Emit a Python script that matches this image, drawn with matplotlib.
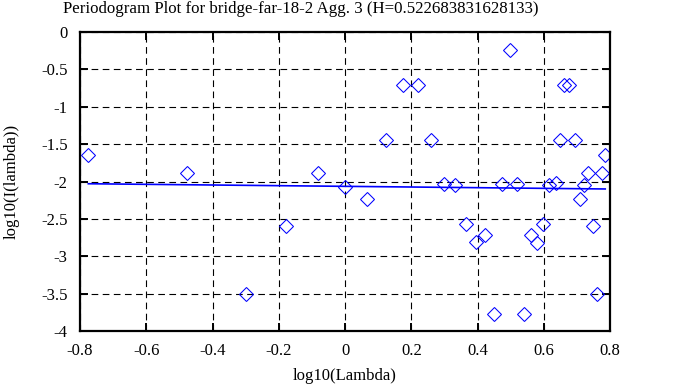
import matplotlib
matplotlib.use("Agg")
import matplotlib.pyplot as plt

plt.rcParams['font.family'] = ['Liberation Serif', 'DejaVu Serif']

# periodogram points
log_lambda = [-0.775, -0.476, -0.299, -0.178, -0.081, 0.0, 0.065, 0.124, 0.174,
              0.219, 0.260, 0.297, 0.332, 0.365, 0.395, 0.422, 0.449, 0.474,
              0.498, 0.518, 0.539, 0.561, 0.579, 0.598, 0.616, 0.636, 0.648,
              0.661, 0.677, 0.693, 0.708, 0.722, 0.734, 0.748, 0.760, 0.774, 0.784]
log_I = [-1.645, -1.88, -3.50, -2.60, -1.89, -2.07, -2.23, -1.45, -0.71,
         -0.71, -1.45, -2.03, -2.05, -2.57, -2.81, -2.72, -3.78, -2.04,
         -0.24, -2.04, -3.78, -2.72, -2.82, -2.57, -2.05, -2.02, -1.45,
         -0.71, -0.71, -1.45, -2.23, -2.05, -1.89, -2.60, -3.50, -1.88, -1.645]

# fitted line (end points)
fit_x = [-0.775, 0.785]
fit_y = [-2.03, -2.10]

fig = plt.figure(figsize=(6.78, 3.87), dpi=100)
ax = fig.add_axes([0.118, 0.145, 0.782, 0.772])

ax.plot(log_lambda, log_I, linestyle='none', marker='D', markersize=7,
        markerfacecolor='none', markeredgecolor='blue', markeredgewidth=0.75)
ax.plot(fit_x, fit_y, color='blue', lw=1.2)

ax.set_xlim(-0.8, 0.8)
ax.set_ylim(-4, 0)
ax.set_xticks([-0.8, -0.6, -0.4, -0.2, 0, 0.2, 0.4, 0.6, 0.8])
ax.set_xticklabels(['-0.8', '-0.6', '-0.4', '-0.2', '0', '0.2', '0.4', '0.6', '0.8'])
ax.set_yticks([0, -0.5, -1, -1.5, -2, -2.5, -3, -3.5, -4])
ax.set_yticklabels(['0', '-0.5', '-1', '-1.5', '-2', '-2.5', '-3', '-3.5', '-4'])

ax.grid(True, color='black', linestyle=(0, (6, 4)), linewidth=0.8)
ax.tick_params(direction='in', length=6, width=1.4, top=True, right=True,
               labelsize=12)
ax.tick_params(axis='x', pad=9)
ax.tick_params(axis='y', pad=9)
for s in ax.spines.values():
    s.set_linewidth(1.6)

fig.text(301 / 678, 1 - 9 / 387,
         'Periodogram Plot for bridge-far-18-2 Agg. 3 (H=0.522683831628133)',
         fontsize=12.2, ha='center', va='center')
ax.set_xlabel('log10(Lambda)', fontsize=12, labelpad=6)
ax.set_ylabel('log10(I(lambda))', fontsize=12, labelpad=15)

fig.savefig('out.png', dpi=100)
